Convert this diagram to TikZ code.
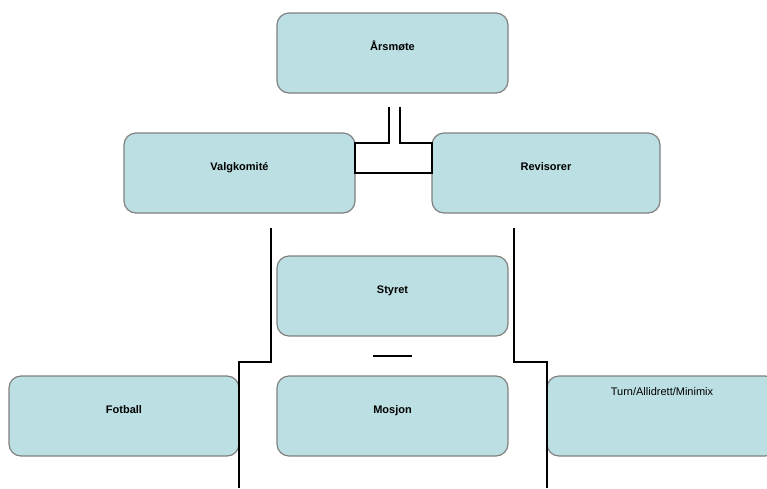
\documentclass[tikz,border=0pt]{standalone}
\usepackage{fontspec}
\setmainfont{Liberation Sans}
\definecolor{boxfill}{HTML}{BBDFE2}
\definecolor{boxline}{HTML}{808080}

\begin{document}
\begin{tikzpicture}[x=1pt, y=-1pt, outer sep=0pt]

\tikzstyle{box}=[draw=boxline, fill=boxfill, line width=1.2pt, rounded corners=12pt, rectangle, inner sep=0pt, minimum height=80pt, minimum width=231pt, text height=37pt, text depth=43pt, anchor=north west, font=\fontsize{11}{13}\selectfont\bfseries]
\tikzstyle{link}=[draw=black, line width=1.8pt]

\useasboundingbox (0,0) rectangle (767,488);

\node[box] (arsmote) at (277,13) {Årsmøte};
\node[box] (valg) at (124,133) {Valgkomité}; \node[box, minimum width=228pt] (revisor) at (432,133) {Revisorer};
\node[box] (styret) at (277,256) {Styret};
\node[box, minimum width=230pt] (fotball) at (9,376) {Fotball}; \node[box] (mosjon) at (277,376) {Mosjon};
\node[box, minimum width=230pt, text height=19pt, text depth=61pt, font=\fontsize{11}{13}\selectfont] (turn) at (547,376) {Turn/Allidrett/Minimix};

\coordinate (la) at (389,107); \coordinate (ra) at (400,107);
\coordinate (ltop) at (271,228); \coordinate (rtop) at (514,228);
\coordinate (lbot) at (fotball.east |- 0,488); \coordinate (rbot) at (turn.west |- 0,488);
\coordinate (sl) at (373,356); \coordinate (sr) at (412,356);

\draw[link] (la) |- (valg.east |- 0,143) -- (valg.east) -- (revisor.west) -- (revisor.west |- 0,143) -| (ra);
\draw[link] (ltop) |- (fotball.east |- 0,362) -- (lbot);
\draw[link] (rtop) |- (turn.west |- 0,362) -- (rbot);
\draw[link] (sl) -- (sr);

\end{tikzpicture}
\end{document}
